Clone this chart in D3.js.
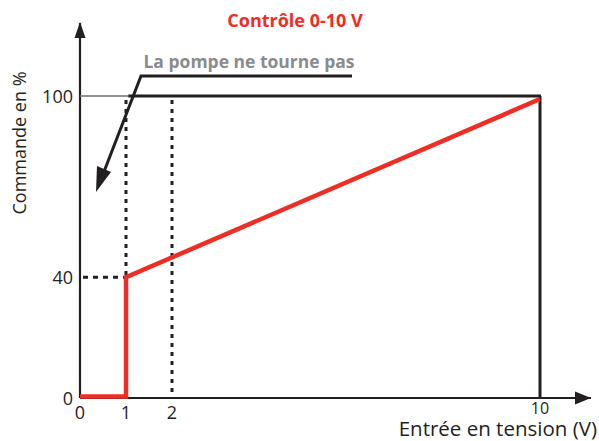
<!DOCTYPE html>
<html><head><meta charset="utf-8">
<script src="https://cdn.jsdelivr.net/npm/d3@7"></script>
<style>body{margin:0;background:#fff}svg{display:block}</style>
</head><body>
<script>
const title = "Contrôle 0-10 V";
const xLabel = "Entrée en tension (V)";
const yLabel = "Commande en %";
const annotation = "La pompe ne tourne pas";
const xTicks = [0, 1, 2, 10];
const yTicks = [0, 40, 100];
const curveX = [0, 1, 1, 10];
const curveY = [0.5, 0.5, 40, 99];
const maxVoltage = 10, maxCommand = 100;

const W = 599, H = 441;
const svg = d3.select("body").append("svg").attr("width", W).attr("height", H);
const x = d3.scaleLinear().domain([0, 10]).range([80, 540]);
const y = d3.scaleLinear().domain([0, 100]).range([398, 96]);
const font = "'Open Sans', sans-serif";

// axes
svg.append("line").attr("x1", x(0)).attr("x2", 591).attr("y1", y(0)).attr("y2", y(0))
  .attr("stroke","#231f20").attr("stroke-width",2.2);
svg.append("path").attr("d",`M591,${y(0)}l-16,-6.5v13z`).attr("fill","#231f20");
svg.append("line").attr("x1", x(0)).attr("x2", x(0)).attr("y1", y(0)).attr("y2", 23)
  .attr("stroke","#231f20").attr("stroke-width",2.2);
svg.append("path").attr("d",`M${x(0)},22l-5.5,16h11z`).attr("fill","#231f20");

// 100% line: thin gray part then thick black
svg.append("line").attr("x1", x(0)).attr("x2", x(1.05)).attr("y1", y(100)).attr("y2", y(100))
  .attr("stroke","#6d6e70").attr("stroke-width",1.5);
svg.append("line").attr("x1", x(1.05)).attr("x2", x(maxVoltage)+1).attr("y1", y(100)).attr("y2", y(100))
  .attr("stroke","#231f20").attr("stroke-width",3);
svg.append("line").attr("x1", x(maxVoltage)).attr("x2", x(maxVoltage)).attr("y1", y(maxCommand)).attr("y2", y(0))
  .attr("stroke","#231f20").attr("stroke-width",3);

// dotted guides
const dot = {stroke:"#231f20", w:3, dash:"4,5"};
svg.append("line").attr("x1", x(1)).attr("x2", x(1)).attr("y1", y(100)+4).attr("y2", y(40))
  .attr("stroke",dot.stroke).attr("stroke-width",dot.w).attr("stroke-dasharray",dot.dash);
svg.append("line").attr("x1", x(2)).attr("x2", x(2)).attr("y1", y(100)+4).attr("y2", y(0))
  .attr("stroke",dot.stroke).attr("stroke-width",dot.w).attr("stroke-dasharray",dot.dash);
svg.append("line").attr("x1", x(0)+3).attr("x2", x(1)).attr("y1", y(40)).attr("y2", y(40))
  .attr("stroke",dot.stroke).attr("stroke-width",dot.w).attr("stroke-dasharray","5,5");

// red curve
const pts = curveX.map((v,i)=>[v, curveY[i]]);
svg.append("path").datum(pts)
  .attr("d", d3.line().x(d=>x(d[0])).y(d=>y(d[1])).curve(d3.curveLinear))
  .attr("fill","none").attr("stroke","#ee2d24").attr("stroke-width",4.5).attr("stroke-linejoin","miter");

// annotation line with arrow
svg.append("path").attr("d","M352,76H141L100,182")
  .attr("fill","none").attr("stroke","#231f20").attr("stroke-width",3);
svg.append("path").attr("d","M96,192L97,166L111,172z").attr("fill","#231f20");
svg.append("text").attr("x",249).attr("y",68).attr("text-anchor","middle")
  .attr("font-family",font).attr("font-weight",700).attr("font-size",17.5).attr("fill","#8a8b8e").text(annotation);

// title
svg.append("text").attr("x",295).attr("y",27).attr("text-anchor","middle")
  .attr("font-family",font).attr("font-weight",700).attr("font-size",18).attr("fill","#ee2d24").text(title);

// tick labels
svg.selectAll(".yt").data(yTicks).enter().append("text")
  .attr("x", 73).attr("y", d=>y(d)+7).attr("text-anchor","end")
  .attr("font-family",font).attr("font-size",18).attr("fill","#231f20").text(d=>d);
svg.selectAll(".xt").data(xTicks).enter().append("text")
  .attr("x", d=>x(d)).attr("y", d=> d===10 ? 414 : 419).attr("text-anchor","middle")
  .attr("font-family",font).attr("font-size", d=> d===10 ? 16 : 18).attr("fill","#231f20").text(d=>d);

// axis labels
svg.append("text").attr("x",597).attr("y",436).attr("text-anchor","end")
  .attr("font-family",font).attr("font-size",20.5).attr("fill","#231f20").text(xLabel);
svg.append("text").attr("transform","translate(26,143) rotate(-90)").attr("text-anchor","middle")
  .attr("font-family",font).attr("font-size",18).attr("fill","#231f20").text(yLabel);
</script>
</body></html>
